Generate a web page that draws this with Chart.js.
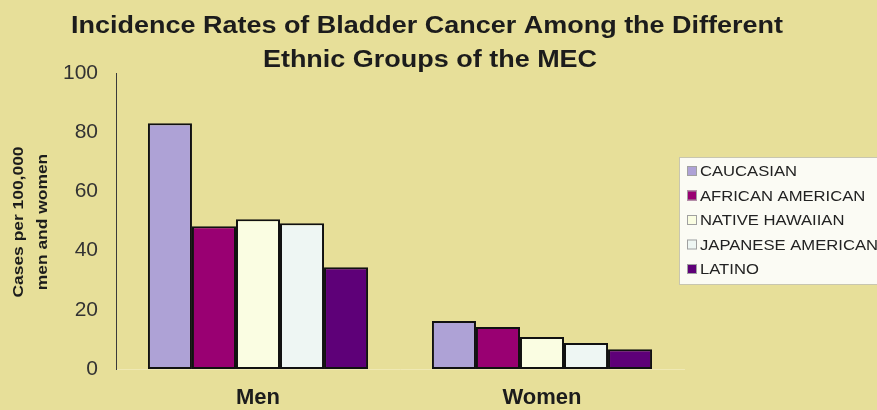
<!DOCTYPE html>
<html>
<head>
<meta charset="utf-8">
<script src="https://cdn.jsdelivr.net/npm/chart.js@4/dist/chart.umd.min.js"></script>
<style>
html,body{margin:0;padding:0;background:#E7DF99;}
#wrap{width:877px;height:410px;position:relative;}
</style>
</head>
<body>
<div id="wrap"><canvas id="c" width="877" height="410"></canvas></div>
<script>
const categories = ['Men', 'Women'];
const caucasian = [83, 16.2];
const africanAmerican = [48.2, 14.2];
const nativeHawaiian = [50.6, 10.8];
const japaneseAmerican = [49.2, 8.8];
const latino = [34.4, 6.7];
const seriesNames = ['CAUCASIAN', 'AFRICAN AMERICAN', 'NATIVE HAWAIIAN', 'JAPANESE AMERICAN', 'LATINO'];
const seriesColors = ['#AEA2D6', '#990072', '#FAFDE2', '#EEF6F3', '#5E0078'];
const titleLines = ['Incidence Rates of Bladder Cancer Among the Different', 'Ethnic Groups of the MEC'];
const yTitleLines = ['Cases per 100,000', 'men and women'];

const seriesValues = [caucasian, africanAmerican, nativeHawaiian, japaneseAmerican, latino];

const FONT = '"Liberation Sans", Arial, sans-serif';

function stretchText(ctx, text, x, y, sx) {
  ctx.save();
  ctx.translate(x, y);
  ctx.scale(sx, 1);
  ctx.fillText(text, 0, 0);
  ctx.restore();
}

const bg = {
  id: 'bg',
  beforeDraw(chart) {
    const ctx = chart.ctx;
    ctx.save();
    ctx.fillStyle = '#E7DF99';
    ctx.fillRect(0, 0, chart.width, chart.height);
    ctx.restore();
  }
};

const texts = {
  id: 'texts',
  afterDraw(chart) {
    const ctx = chart.ctx;
    const area = chart.chartArea;
    ctx.save();
    // title (horizontally stretched like the reference)
    ctx.fillStyle = '#1c1c1c';
    ctx.font = 'bold 23px ' + FONT;
    ctx.textAlign = 'center';
    ctx.textBaseline = 'alphabetic';
    const w1 = ctx.measureText(titleLines[0]).width;
    const sx = 712 / w1;
    stretchText(ctx, titleLines[0], 427, 33, sx);
    stretchText(ctx, titleLines[1], 430, 67, sx);
    // y axis title (stretched along its length)
    ctx.save();
    ctx.translate(19, (area.top + area.bottom) / 2 + 1);
    ctx.rotate(-Math.PI / 2);
    ctx.font = 'bold 14px ' + FONT;
    ctx.textBaseline = 'middle';
    const wy = ctx.measureText(yTitleLines[0]).width;
    const sy = 151 / wy;
    stretchText(ctx, yTitleLines[0], 0, 0, sy);
    stretchText(ctx, yTitleLines[1], 0, 24, sy);
    ctx.restore();
    // legend
    const lx = 679, ly = 157, lw = 210, lh = 127;
    ctx.fillStyle = '#FBFBF4';
    ctx.fillRect(lx, ly, lw, lh);
    ctx.strokeStyle = '#C8C6B0';
    ctx.lineWidth = 1;
    ctx.strokeRect(lx + 0.5, ly + 0.5, lw, lh);
    ctx.font = '15px ' + FONT;
    ctx.textAlign = 'left';
    ctx.textBaseline = 'middle';
    const lsx = 97 / ctx.measureText(seriesNames[0]).width;
    chart.data.datasets.forEach((ds, i) => {
      const y = 171 + i * 24.5;
      ctx.fillStyle = ds.backgroundColor;
      ctx.fillRect(687, y - 5, 10, 10);
      ctx.strokeStyle = '#a0a0a0';
      ctx.strokeRect(687.5, y - 4.5, 9, 9);
      ctx.fillStyle = '#222';
      stretchText(ctx, ds.label, 700, y + 1, lsx);
    });
    ctx.restore();
  }
};

new Chart(document.getElementById('c'), {
  type: 'bar',
  data: {
    labels: categories,
    datasets: seriesNames.map((n, i) => ({
      label: n,
      data: seriesValues[i],
      backgroundColor: seriesColors[i],
      borderColor: '#111',
      borderWidth: 2,
      borderSkipped: false,
      categoryPercentage: 0.775,
      barPercentage: 1.0
    }))
  },
  options: {
    responsive: false,
    animation: false,
    devicePixelRatio: 1,
    layout: { padding: { left: 0, right: 193, top: 73, bottom: 0 } },
    plugins: {
      legend: { display: false },
      title: { display: false },
      tooltip: { enabled: false }
    },
    scales: {
      x: {
        grid: { display: false, drawTicks: false },
        border: { display: true, color: '#EFE9B4', width: 1 },
        ticks: {
          color: '#1c1c1c',
          font: { family: FONT, size: 22, weight: 'bold', lineHeight: 1 },
          padding: 18
        },
        afterFit(scale) { scale.height = 41; }
      },
      y: {
        min: 0, max: 100,
        grid: { display: false, drawTicks: false },
        border: { display: true, color: '#3a3a3a', width: 1 },
        ticks: {
          stepSize: 20,
          color: '#333',
          font: { family: FONT, size: 21 },
          padding: 18
        },
        afterFit(scale) { scale.width = 116; }
      }
    }
  },
  plugins: [bg, texts]
});
</script>
</body>
</html>
